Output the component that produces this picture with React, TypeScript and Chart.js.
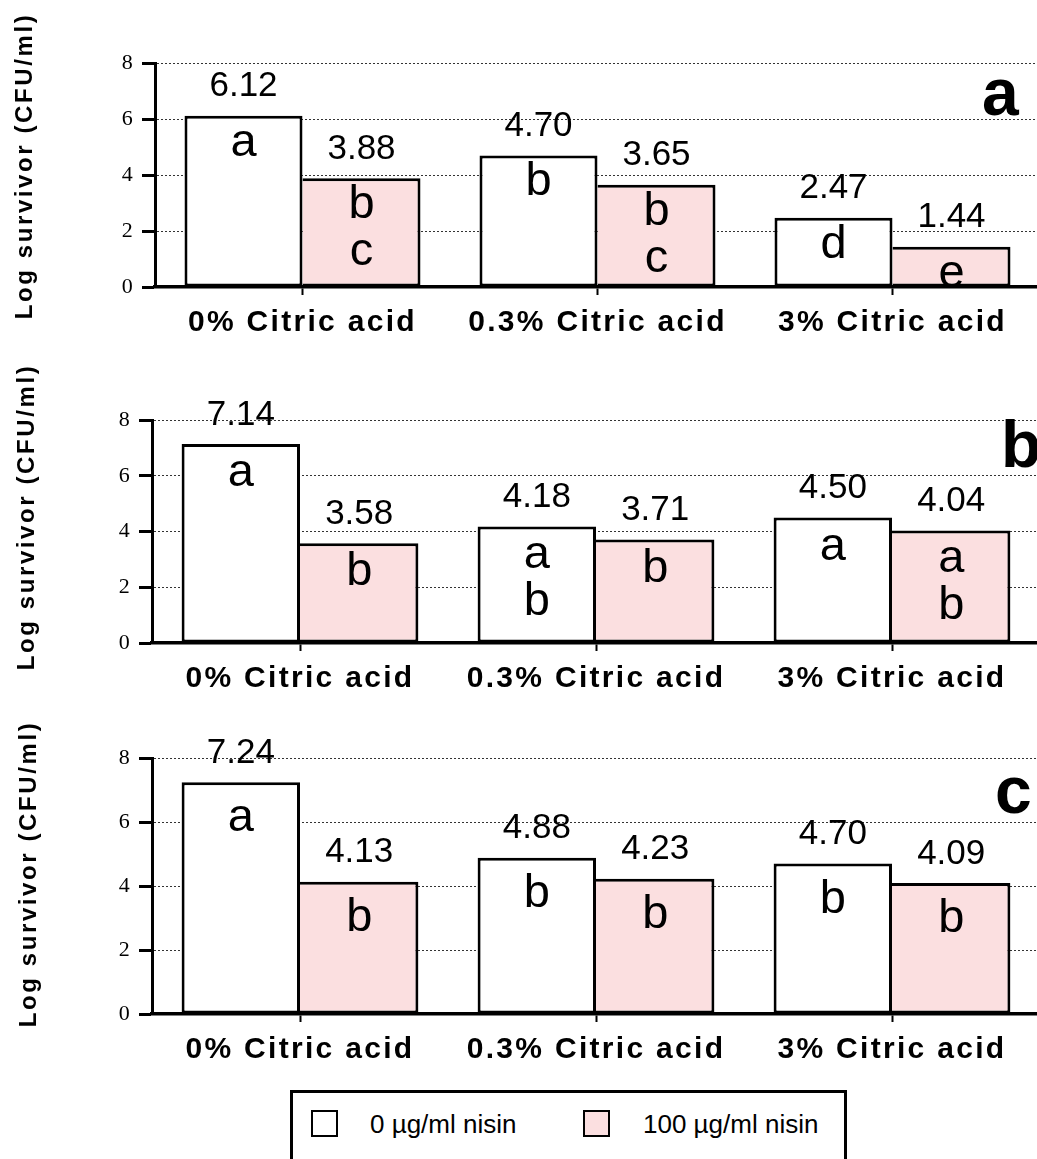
import React, { useEffect, useRef } from "react";
import { Chart, registerables } from "chart.js";

Chart.register(...registerables);

// ---------- data ----------
const categories = ["0% Citric acid", "0.3% Citric acid", "3% Citric acid"];
const seriesNames = ["0 µg/ml nisin", "100 µg/ml nisin"];
const yTickValues = [0, 2, 4, 6, 8];

const panelA_nisin0 = [6.12, 4.7, 2.47];
const panelA_nisin100 = [3.88, 3.65, 1.44];
const panelA_letters0 = [["a"], ["b"], ["d"]];
const panelA_letters100 = [["b", "c"], ["b", "c"], ["e"]];

const panelB_nisin0 = [7.14, 4.18, 4.5];
const panelB_nisin100 = [3.58, 3.71, 4.04];
const panelB_letters0 = [["a"], ["a", "b"], ["a"]];
const panelB_letters100 = [["b"], ["b"], ["a", "b"]];

const panelC_nisin0 = [7.24, 4.88, 4.7];
const panelC_nisin100 = [4.13, 4.23, 4.09];
const panelC_letters0 = [["a"], ["b"], ["b"]];
const panelC_letters100 = [["b"], ["b"], ["b"]];

const panelTags = ["a", "b", "c"];
const yTitle = "Log survivor (CFU/ml)";

// ---------- styles / layout ----------
const PINK = "#fbdfe0";
const SANS = '"Liberation Sans", Arial, Helvetica, sans-serif';
const SERIF = '"Liberation Serif", "Times New Roman", serif';
const CANVAS_W = 1040;
const X_SPACING = "2.3px";
const TITLE_SPACING = "2.6px";
const BAR_BORDER = 3;

type Panel = {
  top: number;
  height: number;
  axisX: number;
  plotTop: number;
  plotBottom: number;
  titleX: number;
  titleY: number;
  tagX: number;
  tagY: number;
  letterOffset: number;
  values: number[][];
  letters: string[][][];
  tag: string;
};

const PANELS: Panel[] = [
  {
    top: 0, height: 345, axisX: 155, plotTop: 63, plotBottom: 287,
    titleX: 25, titleY: 166, tagX: 982, tagY: 115, letterOffset: 40,
    values: [panelA_nisin0, panelA_nisin100],
    letters: [panelA_letters0, panelA_letters100], tag: panelTags[0],
  },
  {
    top: 350, height: 345, axisX: 152, plotTop: 420, plotBottom: 643,
    titleX: 27, titleY: 517, tagX: 1001, tagY: 467, letterOffset: 42,
    values: [panelB_nisin0, panelB_nisin100],
    letters: [panelB_letters0, panelB_letters100], tag: panelTags[1],
  },
  {
    top: 700, height: 380, axisX: 152, plotTop: 758, plotBottom: 1014,
    titleX: 29, titleY: 874, tagX: 995, tagY: 813, letterOffset: 49,
    values: [panelC_nisin0, panelC_nisin100],
    letters: [panelC_letters0, panelC_letters100], tag: panelTags[2],
  },
];

function makePlugin(p: Panel) {
  return {
    id: "annot",
    beforeDraw(chart: any) {
      (chart.ctx as any).letterSpacing = X_SPACING;
    },
    afterDatasetsDraw(chart: any) {
      const ctx = chart.ctx as any;
      ctx.save();
      ctx.letterSpacing = "0px";
      ctx.fillStyle = "#000";
      p.values.forEach((vals, di) => {
        const meta = chart.getDatasetMeta(di);
        meta.data.forEach((bar: any, i: number) => {
          ctx.font = `35px ${SANS}`;
          ctx.textAlign = "center";
          ctx.textBaseline = "middle";
          ctx.fillText(vals[i].toFixed(2), bar.x, bar.y - 29);
          ctx.font = `47px ${SANS}`;
          ctx.textBaseline = "alphabetic";
          p.letters[di][i].forEach((L, k) => {
            ctx.fillText(L, bar.x, bar.y + p.letterOffset + k * 47);
          });
        });
      });
      ctx.restore();
    },
    afterDraw(chart: any) {
      const ctx = chart.ctx as any;
      ctx.save();
      ctx.fillStyle = "#000";
      ctx.letterSpacing = TITLE_SPACING;
      ctx.translate(p.titleX, p.titleY - p.top);
      ctx.rotate(-Math.PI / 2);
      ctx.font = `bold 24px ${SANS}`;
      ctx.textAlign = "center";
      ctx.textBaseline = "middle";
      ctx.fillText(yTitle, 0, 0);
      ctx.restore();

      ctx.save();
      ctx.fillStyle = "#000";
      ctx.letterSpacing = "0px";
      ctx.font = `bold 66px ${SANS}`;
      ctx.textAlign = "left";
      ctx.textBaseline = "alphabetic";
      ctx.fillText(p.tag, p.tagX, p.tagY - p.top);
      ctx.restore();
    },
  };
}

function PanelChart({ p }: { p: Panel }) {
  const ref = useRef<HTMLCanvasElement | null>(null);
  useEffect(() => {
    if (!ref.current) return;
    const xHeight = p.top + p.height - p.plotBottom;
    const chart = new Chart(ref.current, {
      type: "bar",
      data: {
        labels: categories,
        datasets: [
          {
            label: seriesNames[0],
            data: p.values[0],
            backgroundColor: "#ffffff",
            borderColor: "#000000",
            borderWidth: BAR_BORDER,
            borderSkipped: false,
            categoryPercentage: 0.8,
            barPercentage: 1.0,
          },
          {
            label: seriesNames[1],
            data: p.values[1],
            backgroundColor: PINK,
            borderColor: "#000000",
            borderWidth: { top: BAR_BORDER, right: BAR_BORDER, bottom: BAR_BORDER, left: 0 },
            borderSkipped: false,
            categoryPercentage: 0.8,
            barPercentage: 1.0,
          },
        ],
      } as any,
      options: {
        responsive: false,
        animation: false,
        devicePixelRatio: 1,
        layout: { padding: { top: p.plotTop - p.top, left: 0, right: 0, bottom: 0 } },
        plugins: {
          legend: { display: false },
          tooltip: { enabled: false },
          title: { display: false },
        },
        scales: {
          x: {
            offset: true,
            grid: {
              display: true,
              drawOnChartArea: false,
              offset: false,
              drawTicks: true,
              tickLength: 8,
              tickWidth: 2,
              tickColor: "#000",
            },
            border: { display: true, color: "#000", width: 3.5 },
            ticks: {
              color: "#000",
              font: { family: SANS, weight: "bold", size: 30 },
              padding: 10,
              autoSkip: false,
              maxRotation: 0,
              minRotation: 0,
            },
            afterFit: (s: any) => {
              s.height = xHeight;
            },
          },
          y: {
            min: yTickValues[0],
            max: yTickValues[yTickValues.length - 1],
            afterBuildTicks: (s: any) => {
              s.ticks = yTickValues.map((v) => ({ value: v }));
            },
            ticks: {
              color: "#000",
              font: { family: SERIF, size: 22 },
              padding: 7,
            },
            grid: {
              color: "#333",
              lineWidth: 1,
              drawTicks: true,
              tickLength: 13,
              tickWidth: 3,
              tickColor: "#000",
              tickBorderDash: [],
            },
            border: { display: true, color: "#000", width: 3, dash: [2, 2] },
            afterFit: (s: any) => {
              s.width = p.axisX;
            },
          },
        },
      } as any,
      plugins: [makePlugin(p) as any],
    });
    return () => chart.destroy();
  }, [p]);
  return (
    <canvas
      ref={ref}
      width={CANVAS_W}
      height={p.height}
      style={{ position: "absolute", left: 0, top: p.top, width: CANVAS_W, height: p.height }}
    />
  );
}

export default function App() {
  const swatch = (left: number, bg: string): React.CSSProperties => ({
    position: "absolute",
    left,
    top: 1110,
    width: 27,
    height: 27,
    border: "2px solid #000",
    boxSizing: "border-box",
    background: bg,
  });
  const text = (left: number): React.CSSProperties => ({
    position: "absolute",
    left,
    top: 1111,
    fontFamily: SANS,
    fontSize: 26,
    lineHeight: "26px",
    color: "#000",
    whiteSpace: "nowrap",
  });
  return (
    <div
      style={{
        position: "absolute",
        left: 0,
        top: 0,
        width: 1037,
        height: 1159,
        overflow: "hidden",
        background: "#fff",
      }}
    >
      {PANELS.map((p, i) => (
        <PanelChart key={i} p={p} />
      ))}
      <div
        style={{
          position: "absolute",
          left: 290,
          top: 1090,
          width: 557,
          height: 120,
          border: "3px solid #000",
          boxSizing: "border-box",
        }}
      />
      <div style={swatch(311, "#fff")} />
      <div style={text(370)}>{seriesNames[0]}</div>
      <div style={swatch(583, PINK)} />
      <div style={text(643)}>{seriesNames[1]}</div>
    </div>
  );
}
